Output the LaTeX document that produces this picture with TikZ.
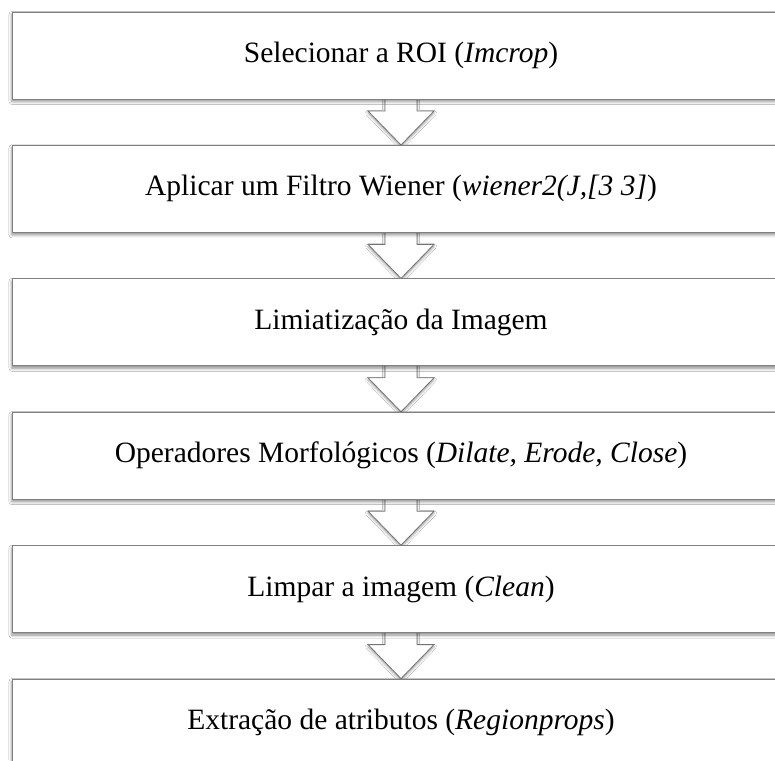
\documentclass[tikz,border=0pt]{standalone}
\usepackage{fontspec}
\setmainfont{Liberation Serif}
\usetikzlibrary{shadows.blur,calc,backgrounds}
\begin{document}
\begin{tikzpicture}[x=1pt,y=1pt,
  stage/.style={draw=black!50, line width=0.8pt, fill=white,
    minimum width=778pt, minimum height=87pt, inner sep=0pt,
    font=\fontsize{29.5}{33}\selectfont,
    blur shadow={shadow xshift=0pt, shadow yshift=-2.5pt,
      shadow blur radius=3pt, shadow opacity=45}},
  flowarrow/.style={draw=black!55, line width=0.8pt, fill=white,
    line join=miter,
    blur shadow={shadow xshift=0pt, shadow yshift=-2pt,
      shadow blur radius=2.5pt, shadow opacity=40}}]
\clip (0,0) rectangle (775,760);

% processing stages, top to bottom
\node[stage] (s1) at (401,704.5) {Selecionar a ROI (\textit{Imcrop})};
\node[stage] (s2) at (401,571.1) {Aplicar um Filtro Wiener (\textit{wiener2(J,[3 3]})};
\node[stage] (s3) at (401,437.7) {Limiatização da Imagem};
\node[stage] (s4) at (401,304.3) {Operadores Morfológicos (\textit{Dilate, Erode, Close})};
\node[stage] (s5) at (401,170.9) {Limpar a imagem (\textit{Clean})};
\node[stage] (s6) at (401,37.5) {Extração de atributos (\textit{Regionprops})};

% hollow block arrows between consecutive stages, behind the boxes
\begin{pgfonlayer}{background}
\fill[white] (0,0) rectangle (775,760);
\foreach \a/\b in {s1/s2,s2/s3,s3/s4,s4/s5,s5/s6}{
  \path[flowarrow]
    ($(\a.south)+(-16,6)$) -- ($(\b.north)+(-16,34)$) -- ++(-17,0)
    -- (\b.north) -- ++(33,34) -- ++(-17,0)
    -- ($(\a.south)+(16,6)$) -- cycle;
}
\end{pgfonlayer}
\end{tikzpicture}
\end{document}
